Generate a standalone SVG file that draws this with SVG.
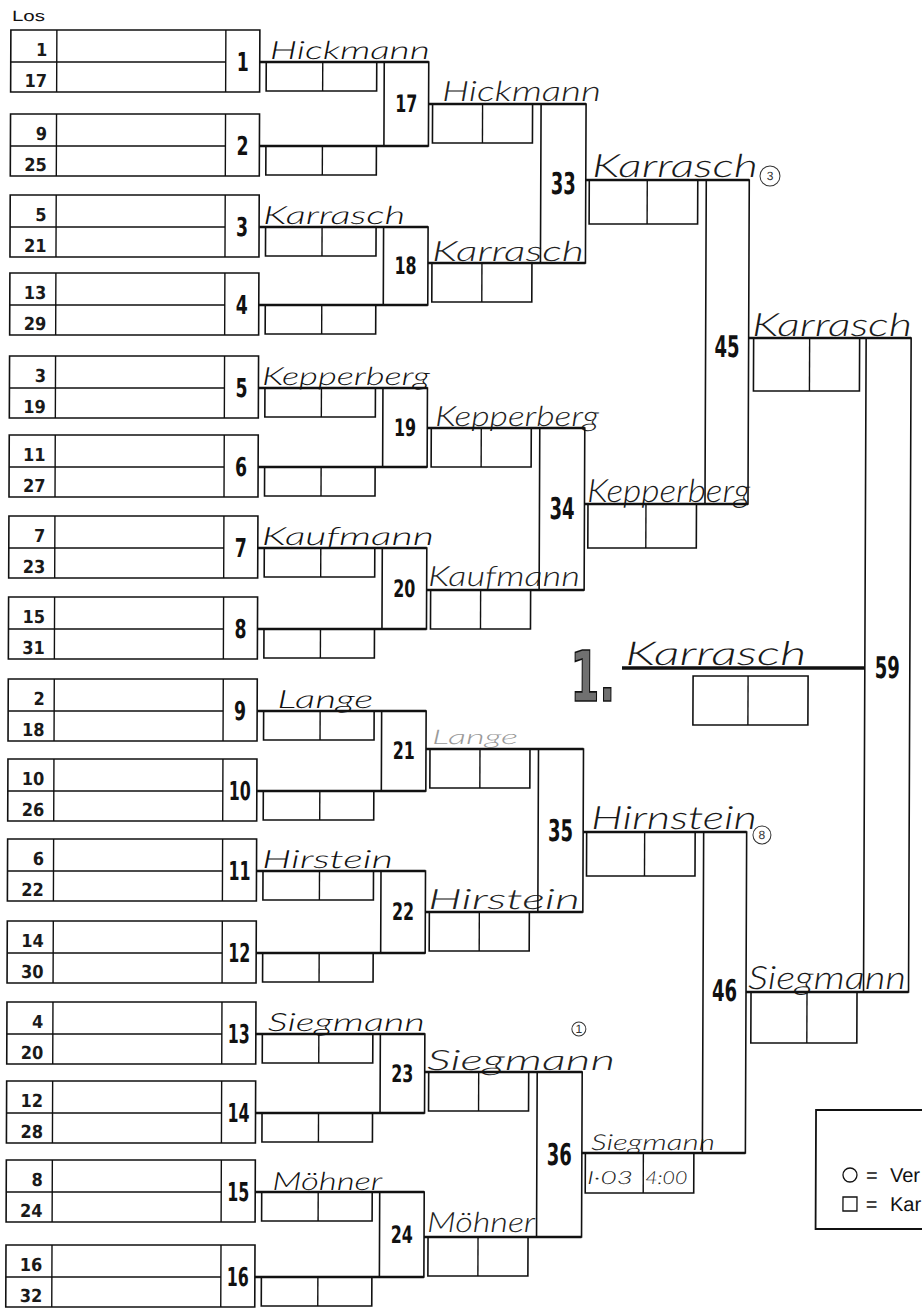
<svg xmlns="http://www.w3.org/2000/svg" width="922" height="1308" viewBox="0 0 922 1308">
<style>
.bx{fill:none;stroke:#111;stroke-width:1.6}
.ln{fill:none;stroke:#111;stroke-width:1.4}
.wl{fill:none;stroke:#111;stroke-width:2.6}
.fl{fill:none;stroke:#111;stroke-width:3.6}
.los{font-family:"DejaVu Sans Condensed","DejaVu Sans",sans-serif;font-stretch:condensed;font-weight:600;font-size:18px;text-anchor:end;fill:#1a1a1a}
.mn{font-family:"Liberation Sans Narrow","DejaVu Sans Condensed","DejaVu Sans",sans-serif;font-weight:bold;font-stretch:condensed;text-anchor:middle;fill:#111}
.r1{font-size:26px}
.r2{font-size:24px}
.r3{font-size:30px}
.h1{font-family:Lato,"Liberation Serif",serif;font-style:italic;font-weight:300;font-size:25px;fill:#111}
.h2{font-family:Lato,"Liberation Sans",sans-serif;font-weight:300;font-style:italic;font-size:28px;fill:#222}
.h3{font-family:Lato,"Liberation Sans",sans-serif;font-weight:300;font-style:italic;font-size:32px;fill:#1a1a1a}
.cn{fill:none;stroke:#333;stroke-width:1}
.ct{font-family:"Liberation Sans",sans-serif;font-size:12px;fill:#333;text-anchor:middle}
.lg{font-family:"Liberation Sans",sans-serif;font-size:20px;fill:#111}
.sym{fill:none;stroke:#111;stroke-width:1.3}
</style>
<rect width="922" height="1308" fill="#fff"/>
<g transform="skewX(-0.23)">
<text x="12" y="21" font-family="Liberation Sans, sans-serif" font-size="15" textLength="33" lengthAdjust="spacingAndGlyphs" fill="#111">Los</text>

<g id="m1"><rect class="bx" x="11" y="30" width="249" height="62"/><path class="ln" d="M11 62H226M57 30V92M226 30V92"/><text class="los" x="47.5" y="56">1</text><text class="los" x="47.5" y="87">17</text><text class="mn r1" x="243" y="71" textLength="12" lengthAdjust="spacingAndGlyphs">1</text><rect class="bx" x="266.5" y="62" width="110.5" height="29"/><path class="ln" d="M323 62V91"/><text class="h1" x="270" y="59" textLength="160" lengthAdjust="spacingAndGlyphs">Hickmann</text></g>
<g id="m2"><rect class="bx" x="11" y="114" width="249" height="62"/><path class="ln" d="M11 146H226M57 114V176M226 114V176"/><text class="los" x="47.5" y="140">9</text><text class="los" x="47.5" y="171">25</text><text class="mn r1" x="243" y="155" textLength="12" lengthAdjust="spacingAndGlyphs">2</text><rect class="bx" x="266.5" y="146" width="110.5" height="29"/><path class="ln" d="M323 146V175"/></g>
<g id="m3"><rect class="bx" x="11" y="195" width="249" height="62"/><path class="ln" d="M11 227H226M57 195V257M226 195V257"/><text class="los" x="47.5" y="221">5</text><text class="los" x="47.5" y="252">21</text><text class="mn r1" x="243" y="236" textLength="12" lengthAdjust="spacingAndGlyphs">3</text><rect class="bx" x="266.5" y="227" width="110.5" height="29"/><path class="ln" d="M323 227V256"/><text class="h1" x="264" y="224" textLength="142" lengthAdjust="spacingAndGlyphs">Karrasch</text></g>
<g id="m4"><rect class="bx" x="11" y="273" width="249" height="62"/><path class="ln" d="M11 305H226M57 273V335M226 273V335"/><text class="los" x="47.5" y="299">13</text><text class="los" x="47.5" y="330">29</text><text class="mn r1" x="243" y="314" textLength="12" lengthAdjust="spacingAndGlyphs">4</text><rect class="bx" x="266.5" y="305" width="110.5" height="29"/><path class="ln" d="M323 305V334"/></g>
<g id="m5"><rect class="bx" x="11" y="356" width="249" height="62"/><path class="ln" d="M11 388H226M57 356V418M226 356V418"/><text class="los" x="47.5" y="382">3</text><text class="los" x="47.5" y="413">19</text><text class="mn r1" x="243" y="397" textLength="12" lengthAdjust="spacingAndGlyphs">5</text><rect class="bx" x="266.5" y="388" width="110.5" height="29"/><path class="ln" d="M323 388V417"/><text class="h1" x="263.5" y="385" textLength="168" lengthAdjust="spacingAndGlyphs">Kepperberg</text></g>
<g id="m6"><rect class="bx" x="11" y="435" width="249" height="62"/><path class="ln" d="M11 467H226M57 435V497M226 435V497"/><text class="los" x="47.5" y="461">11</text><text class="los" x="47.5" y="492">27</text><text class="mn r1" x="243" y="476" textLength="12" lengthAdjust="spacingAndGlyphs">6</text><rect class="bx" x="266.5" y="467" width="110.5" height="29"/><path class="ln" d="M323 467V496"/></g>
<g id="m7"><rect class="bx" x="11" y="516" width="249" height="62"/><path class="ln" d="M11 548H226M57 516V578M226 516V578"/><text class="los" x="47.5" y="542">7</text><text class="los" x="47.5" y="573">23</text><text class="mn r1" x="243" y="557" textLength="12" lengthAdjust="spacingAndGlyphs">7</text><rect class="bx" x="266.5" y="548" width="110.5" height="29"/><path class="ln" d="M323 548V577"/><text class="h1" x="264" y="545" textLength="172" lengthAdjust="spacingAndGlyphs">Kaufmann</text></g>
<g id="m8"><rect class="bx" x="11" y="597" width="249" height="62"/><path class="ln" d="M11 629H226M57 597V659M226 597V659"/><text class="los" x="47.5" y="623">15</text><text class="los" x="47.5" y="654">31</text><text class="mn r1" x="243" y="638" textLength="12" lengthAdjust="spacingAndGlyphs">8</text><rect class="bx" x="266.5" y="629" width="110.5" height="29"/><path class="ln" d="M323 629V658"/></g>
<g id="m9"><rect class="bx" x="11" y="679" width="249" height="62"/><path class="ln" d="M11 711H226M57 679V741M226 679V741"/><text class="los" x="47.5" y="705">2</text><text class="los" x="47.5" y="736">18</text><text class="mn r1" x="243" y="720" textLength="12" lengthAdjust="spacingAndGlyphs">9</text><rect class="bx" x="266.5" y="711" width="110.5" height="29"/><path class="ln" d="M323 711V740"/><text class="h1" x="280" y="708" textLength="96" lengthAdjust="spacingAndGlyphs">Lange</text></g>
<g id="m10"><rect class="bx" x="11" y="759" width="249" height="62"/><path class="ln" d="M11 791H226M57 759V821M226 759V821"/><text class="los" x="47.5" y="785">10</text><text class="los" x="47.5" y="816">26</text><text class="mn r1" x="243" y="800" textLength="22" lengthAdjust="spacingAndGlyphs">10</text><rect class="bx" x="266.5" y="791" width="110.5" height="29"/><path class="ln" d="M323 791V820"/></g>
<g id="m11"><rect class="bx" x="11" y="839" width="249" height="62"/><path class="ln" d="M11 871H226M57 839V901M226 839V901"/><text class="los" x="47.5" y="865">6</text><text class="los" x="47.5" y="896">22</text><text class="mn r1" x="243" y="880" textLength="22" lengthAdjust="spacingAndGlyphs">11</text><rect class="bx" x="266.5" y="871" width="110.5" height="29"/><path class="ln" d="M323 871V900"/><text class="h1" x="265.5" y="868" textLength="131" lengthAdjust="spacingAndGlyphs">Hirstein</text></g>
<g id="m12"><rect class="bx" x="11" y="921" width="249" height="62"/><path class="ln" d="M11 953H226M57 921V983M226 921V983"/><text class="los" x="47.5" y="947">14</text><text class="los" x="47.5" y="978">30</text><text class="mn r1" x="243" y="962" textLength="22" lengthAdjust="spacingAndGlyphs">12</text><rect class="bx" x="266.5" y="953" width="110.5" height="29"/><path class="ln" d="M323 953V982"/></g>
<g id="m13"><rect class="bx" x="11" y="1002" width="249" height="62"/><path class="ln" d="M11 1034H226M57 1002V1064M226 1002V1064"/><text class="los" x="47.5" y="1028">4</text><text class="los" x="47.5" y="1059">20</text><text class="mn r1" x="243" y="1043" textLength="22" lengthAdjust="spacingAndGlyphs">13</text><rect class="bx" x="266.5" y="1034" width="110.5" height="29"/><path class="ln" d="M323 1034V1063"/><text class="h1" x="272" y="1031" textLength="157" lengthAdjust="spacingAndGlyphs">Siegmann</text></g>
<g id="m14"><rect class="bx" x="11" y="1081" width="249" height="62"/><path class="ln" d="M11 1113H226M57 1081V1143M226 1081V1143"/><text class="los" x="47.5" y="1107">12</text><text class="los" x="47.5" y="1138">28</text><text class="mn r1" x="243" y="1122" textLength="22" lengthAdjust="spacingAndGlyphs">14</text><rect class="bx" x="266.5" y="1113" width="110.5" height="29"/><path class="ln" d="M323 1113V1142"/></g>
<g id="m15"><rect class="bx" x="11" y="1160" width="249" height="62"/><path class="ln" d="M11 1192H226M57 1160V1222M226 1160V1222"/><text class="los" x="47.5" y="1186">8</text><text class="los" x="47.5" y="1217">24</text><text class="mn r1" x="243" y="1201" textLength="22" lengthAdjust="spacingAndGlyphs">15</text><rect class="bx" x="266.5" y="1192" width="110.5" height="29"/><path class="ln" d="M323 1192V1221"/><text class="h1" x="277" y="1190" textLength="110" lengthAdjust="spacingAndGlyphs">Möhner</text></g>
<g id="m16"><rect class="bx" x="11" y="1245" width="249" height="62"/><path class="ln" d="M11 1277H226M57 1245V1307M226 1245V1307"/><text class="los" x="47.5" y="1271">16</text><text class="los" x="47.5" y="1302">32</text><text class="mn r1" x="243" y="1286" textLength="22" lengthAdjust="spacingAndGlyphs">16</text><rect class="bx" x="266.5" y="1277" width="110.5" height="29"/><path class="ln" d="M323 1277V1306"/></g>

<g id="m17"><rect class="bx" x="384.5" y="62" width="44.5" height="84"/><text class="mn r2" x="406.7" y="112" textLength="22" lengthAdjust="spacingAndGlyphs">17</text><rect class="bx" x="433" y="104" width="100" height="39"/><path class="ln" d="M483 104V143"/><text class="h2" x="442.4" y="101" textLength="159" lengthAdjust="spacingAndGlyphs">Hickmann</text></g>
<g id="m18"><rect class="bx" x="384.5" y="227" width="44.5" height="78"/><text class="mn r2" x="406.7" y="274" textLength="22" lengthAdjust="spacingAndGlyphs">18</text><rect class="bx" x="433" y="263" width="100" height="39"/><path class="ln" d="M483 263V302"/><text class="h2" x="433" y="261" textLength="152" lengthAdjust="spacingAndGlyphs">Karrasch</text></g>
<g id="m19"><rect class="bx" x="384.5" y="388" width="44.5" height="79"/><text class="mn r2" x="406.7" y="436" textLength="22" lengthAdjust="spacingAndGlyphs">19</text><rect class="bx" x="433" y="428" width="100" height="39"/><path class="ln" d="M483 428V467"/><text class="h2" x="436.7" y="426" textLength="164" lengthAdjust="spacingAndGlyphs">Kepperberg</text></g>
<g id="m20"><rect class="bx" x="384.5" y="548" width="44.5" height="81"/><text class="mn r2" x="406.7" y="597" textLength="22" lengthAdjust="spacingAndGlyphs">20</text><rect class="bx" x="433" y="590" width="100" height="39"/><path class="ln" d="M483 590V629"/><text class="h2" x="430.3" y="586" textLength="152" lengthAdjust="spacingAndGlyphs">Kaufmann</text></g>
<g id="m21"><rect class="bx" x="384.5" y="711" width="44.5" height="80"/><text class="mn r2" x="406.7" y="759" textLength="22" lengthAdjust="spacingAndGlyphs">21</text><rect class="bx" x="433" y="749" width="100" height="39"/><path class="ln" d="M483 749V788"/><text class="h2" x="435" y="744" style="font-size:20px;fill:#9a9a9a" textLength="86" lengthAdjust="spacingAndGlyphs">Lange</text></g>
<g id="m22"><rect class="bx" x="384.5" y="871" width="44.5" height="82"/><text class="mn r2" x="406.7" y="920" textLength="22" lengthAdjust="spacingAndGlyphs">22</text><rect class="bx" x="433" y="912" width="100" height="39"/><path class="ln" d="M483 912V951"/><text class="h2" x="431.6" y="909" textLength="152" lengthAdjust="spacingAndGlyphs">Hirstein</text></g>
<g id="m23"><rect class="bx" x="384.5" y="1034" width="44.5" height="79"/><text class="mn r2" x="406.7" y="1082" textLength="22" lengthAdjust="spacingAndGlyphs">23</text><rect class="bx" x="433" y="1072" width="100" height="39"/><path class="ln" d="M483 1072V1111"/><text class="h2" x="431.3" y="1070" textLength="188" lengthAdjust="spacingAndGlyphs">Siegmann</text><circle class="cn" cx="583" cy="1029" r="7"/><text class="ct" x="583" y="1033">1</text></g>
<g id="m24"><rect class="bx" x="384.5" y="1192" width="44.5" height="85"/><text class="mn r2" x="406.7" y="1243" textLength="22" lengthAdjust="spacingAndGlyphs">24</text><rect class="bx" x="433" y="1237" width="100" height="39"/><path class="ln" d="M483 1237V1276"/><text class="h2" x="432" y="1232" textLength="108" lengthAdjust="spacingAndGlyphs">Möhner</text></g>

<g id="m33"><rect class="bx" x="541.5" y="104" width="45" height="159"/><text class="mn r3" x="564" y="194" textLength="25" lengthAdjust="spacingAndGlyphs">33</text><rect class="bx" x="590" y="180" width="108.5" height="44"/><path class="ln" d="M648 180V224"/><text class="h3" x="592.7" y="177" textLength="166" lengthAdjust="spacingAndGlyphs">Karrasch</text><circle class="cn" cx="770.7" cy="176" r="10"/><text class="ct" x="770.7" y="180">3</text></g>
<g id="m34"><rect class="bx" x="541.5" y="428" width="45" height="162"/><text class="mn r3" x="564" y="519" textLength="25" lengthAdjust="spacingAndGlyphs">34</text><rect class="bx" x="590" y="504" width="108.5" height="44"/><path class="ln" d="M648 504V548"/><text class="h3" x="589" y="502" textLength="163" lengthAdjust="spacingAndGlyphs">Kepperberg</text></g>
<g id="m35"><rect class="bx" x="541.5" y="749" width="45" height="163"/><text class="mn r3" x="564" y="841" textLength="25" lengthAdjust="spacingAndGlyphs">35</text><rect class="bx" x="590" y="832" width="108.5" height="44"/><path class="ln" d="M648 832V876"/><text class="h3" x="594.3" y="829" textLength="166" lengthAdjust="spacingAndGlyphs">Hirnstein</text><circle class="cn" cx="765.3" cy="835" r="9"/><text class="ct" x="765.3" y="839">8</text></g>
<g id="m36"><rect class="bx" x="541.5" y="1072" width="45" height="165"/><text class="mn r3" x="564" y="1165" textLength="25" lengthAdjust="spacingAndGlyphs">36</text><rect class="bx" x="590" y="1153" width="108.5" height="40"/><path class="ln" d="M648 1153V1193"/><text class="h2" x="595.6" y="1150" style="font-size:22px" textLength="124" lengthAdjust="spacingAndGlyphs">Siegmann</text><text class="h2" x="591.7" y="1184" style="font-size:18px" textLength="46" lengthAdjust="spacingAndGlyphs">I·03</text><text class="h2" x="650" y="1184" style="font-size:18px" textLength="42" lengthAdjust="spacingAndGlyphs">4:00</text></g>

<g id="m45"><rect class="bx" x="707" y="180" width="43" height="324"/><text class="mn r3" x="728.5" y="357" textLength="25" lengthAdjust="spacingAndGlyphs">45</text><rect class="bx" x="755" y="338" width="106" height="53"/><path class="ln" d="M811 338V391"/><text class="h3" x="753.3" y="336" textLength="160" lengthAdjust="spacingAndGlyphs">Karrasch</text></g>
<g id="m46"><rect class="bx" x="707" y="832" width="43" height="321"/><text class="mn r3" x="728.5" y="1001" textLength="25" lengthAdjust="spacingAndGlyphs">46</text><rect class="bx" x="755" y="992" width="106" height="51"/><path class="ln" d="M811 992V1043"/><text class="h3" x="752" y="989" textLength="158" lengthAdjust="spacingAndGlyphs">Siegmann</text></g>

<g id="m59"><rect class="bx" x="867.5" y="338" width="45" height="654"/><text class="mn r3" x="890" y="678" textLength="25" lengthAdjust="spacingAndGlyphs">59</text></g>

<g id="final"><text class="mn" x="573" y="701" style="font-size:70px;text-anchor:start;fill:#707070;stroke:#111;stroke-width:1.6" textLength="45" lengthAdjust="spacingAndGlyphs">1.</text><rect class="bx" x="695.8" y="676" width="115" height="49"/><path class="ln" d="M750.8 676V725"/><text class="h3" x="628" y="665" style="font-size:33px" textLength="181" lengthAdjust="spacingAndGlyphs">Karrasch</text></g>

<g id="connectors">
<path class="wl" d="M260 62H429M260 146H429M260 227H429M260 305H429M260 388H429M260 467H429M260 548H429M260 629H429M260 711H429M260 791H429M260 871H429M260 953H429M260 1034H429M260 1113H429M260 1192H429M260 1277H429"/>
<path class="wl" d="M429 104H586.5M429 263H586.5M429 428H586.5M429 590H586.5M429 749H586.5M429 912H586.5M429 1072H586.5M429 1237H586.5"/>
<path class="wl" d="M586.5 180H750M586.5 504H750M586.5 832H750M586.5 1153H750"/>
<path class="wl" d="M750 338H912.5M750 992H912.5"/>
<path class="fl" d="M624.7 668H867.5"/>
</g>

<g id="legend"><rect x="820.5" y="1110" width="140" height="119" fill="none" stroke="#111" stroke-width="1.8"/><circle class="sym" cx="854.7" cy="1175" r="7"/><rect class="sym" x="847.8" y="1197" width="14" height="14"/><text class="lg" x="870.7" y="1182">= <tspan x="894.7">Ver</tspan></text><text class="lg" x="870.7" y="1211">= <tspan x="894.8">Kar</tspan></text></g>
</g>
</svg>
